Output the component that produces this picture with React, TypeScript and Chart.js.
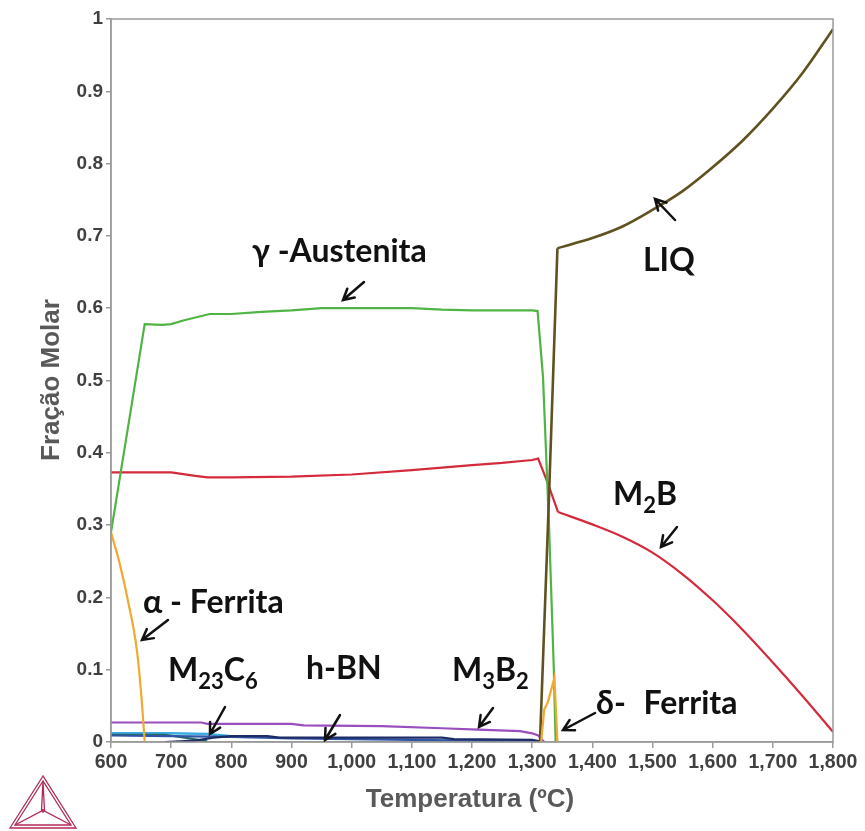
import React, { useEffect, useRef } from "react";
import { Chart, registerables } from "chart.js";

Chart.register(...registerables);

// Temperature (ºC) and molar fraction for every phase
const gammaT = [600, 656, 685, 700, 720, 764, 800, 850, 900, 950, 1000, 1100, 1150, 1200, 1250, 1300, 1309, 1318, 1328, 1336, 1339];
const gammaY = [0.29, 0.578, 0.577, 0.578, 0.583, 0.592, 0.592, 0.595, 0.597, 0.6, 0.6, 0.6, 0.598, 0.597, 0.597, 0.597, 0.596, 0.505, 0.3, 0.1, 0];

const m2bSolidT = [600, 700, 740, 760, 800, 900, 1000, 1100, 1200, 1250, 1300, 1310, 1325, 1343];
const m2bSolidY = [0.373, 0.373, 0.368, 0.366, 0.366, 0.367, 0.37, 0.376, 0.383, 0.386, 0.39, 0.392, 0.36, 0.318];

const m2bMeltT = [1343, 1400, 1450, 1500, 1550, 1600, 1650, 1700, 1750, 1800];
const m2bMeltY = [0.318, 0.301, 0.284, 0.262, 0.232, 0.196, 0.155, 0.11, 0.063, 0.014];

const liqRiseT = [1313, 1328, 1342];
const liqRiseY = [0, 0.34, 0.683];

const liqT = [1342, 1400, 1450, 1500, 1550, 1600, 1650, 1700, 1750, 1800];
const liqY = [0.683, 0.697, 0.713, 0.736, 0.762, 0.795, 0.832, 0.876, 0.926, 0.986];

const alphaT = [600, 615, 628, 643, 651, 656];
const alphaY = [0.29, 0.245, 0.196, 0.127, 0.058, 0];

const deltaT = [1315, 1320, 1326, 1337, 1342];
const deltaY = [0, 0.045, 0.055, 0.089, 0];

const m3b2T = [600, 750, 760, 900, 920, 1050, 1150, 1210, 1280, 1300, 1310, 1320];
const m3b2Y = [0.027, 0.027, 0.025, 0.025, 0.023, 0.022, 0.019, 0.017, 0.015, 0.012, 0.009, 0];

const m23c6T = [690, 740, 770, 800, 860, 880, 1000, 1150, 1170, 1300, 1320];
const m23c6Y = [0, 0.002, 0.006, 0.008, 0.008, 0.006, 0.006, 0.006, 0.004, 0.003, 0];

const hbnT = [600, 700, 800, 900, 1000, 1100, 1200, 1300, 1315];
const hbnY = [0.009, 0.008, 0.007, 0.005, 0.004, 0.003, 0.002, 0.002, 0];

const cyanT = [600, 700, 760, 800, 830];
const cyanY = [0.012, 0.012, 0.011, 0.008, 0.007];

const tealT = [600, 690, 730, 760];
const tealY = [0.01, 0.01, 0.005, 0.001];

const xTicks = [600, 700, 800, 900, 1000, 1100, 1200, 1300, 1400, 1500, 1600, 1700, 1800];
const yTicks = [0, 0.1, 0.2, 0.3, 0.4, 0.5, 0.6, 0.7, 0.8, 0.9, 1];

const pts = (t: number[], y: number[]) => t.map((x, i) => ({ x, y: y[i] }));

const LABEL_FONT = "bold 32px Lato, 'Open Sans', sans-serif";
const SUB_FONT = "bold 22px Lato, 'Open Sans', sans-serif";
const AXIS_FONT = "'Liberation Sans', Arial, sans-serif";

type Part = { t: string; sub?: boolean; gap?: number };

function drawRich(ctx: CanvasRenderingContext2D, parts: Part[], x: number, y: number) {
  let cx = x;
  for (const p of parts) {
    cx += p.gap ?? 0;
    ctx.font = p.sub ? SUB_FONT : LABEL_FONT;
    ctx.fillText(p.t, cx, p.sub ? y + 8 : y);
    cx += ctx.measureText(p.t).width;
  }
}

function arrow(ctx: CanvasRenderingContext2D, x1: number, y1: number, x2: number, y2: number) {
  const a = Math.atan2(y2 - y1, x2 - x1);
  const h = 12;
  ctx.beginPath();
  ctx.moveTo(x1, y1);
  ctx.lineTo(x2, y2);
  ctx.moveTo(x2 - h * Math.cos(a - 0.5), y2 - h * Math.sin(a - 0.5));
  ctx.lineTo(x2, y2);
  ctx.lineTo(x2 - h * Math.cos(a + 0.5), y2 - h * Math.sin(a + 0.5));
  ctx.stroke();
}

const decorations = {
  id: "decorations",
  afterDatasetsDraw(chart: Chart) {
    const { ctx, chartArea } = chart;
    ctx.save();
    // Frame around the plot
    ctx.strokeStyle = "#9a9a9a";
    ctx.lineWidth = 1.5;
    ctx.strokeRect(chartArea.left, chartArea.top, chartArea.right - chartArea.left, chartArea.bottom - chartArea.top);

    // Phase labels
    ctx.fillStyle = "#111";
    ctx.textBaseline = "alphabetic";
    ctx.textAlign = "left";
    drawRich(ctx, [{ t: "γ -Austenita" }], 252, 262);
    drawRich(ctx, [{ t: "LIQ" }], 643, 271);
    drawRich(ctx, [{ t: "M" }, { t: "2", sub: true }, { t: "B" }], 613, 505);
    drawRich(ctx, [{ t: "α - Ferrita" }], 143, 613);
    drawRich(ctx, [{ t: "M" }, { t: "23", sub: true }, { t: "C" }, { t: "6", sub: true }], 168, 681);
    drawRich(ctx, [{ t: "h-BN" }], 306, 679);
    drawRich(ctx, [{ t: "M" }, { t: "3", sub: true }, { t: "B" }, { t: "2", sub: true }], 452, 681);
    drawRich(ctx, [{ t: "δ- " }, { t: "Ferrita", gap: 10 }], 596, 714);

    ctx.strokeStyle = "#111";
    ctx.lineWidth = 2.5;
    ctx.lineCap = "round";
    arrow(ctx, 364, 282, 343, 300);
    arrow(ctx, 675, 220, 655, 199);
    arrow(ctx, 677, 527, 661, 547);
    arrow(ctx, 168, 620, 142, 640);
    arrow(ctx, 225, 707, 210, 734);
    arrow(ctx, 340, 715, 325, 740);
    arrow(ctx, 493, 708, 479, 727);
    arrow(ctx, 595, 713, 563, 730);

    // Axis titles
    ctx.fillStyle = "#595959";
    ctx.font = `bold 26px ${AXIS_FONT}`;
    ctx.textAlign = "center";
    ctx.textBaseline = "middle";
    ctx.fillText("Temperatura (ºC)", 470, 800);
    ctx.save();
    ctx.translate(52, 380);
    ctx.rotate(-Math.PI / 2);
    ctx.fillText("Fração Molar", 0, 0);
    ctx.restore();

    // Triangle emblem
    ctx.strokeStyle = "#b02a55";
    ctx.lineWidth = 1.3;
    ctx.lineCap = "butt";
    const A = [43, 776], B = [10, 828], C = [76, 828], O = [43, 811];
    const tri = (p: number[][]) => {
      ctx.beginPath();
      ctx.moveTo(p[0][0], p[0][1]);
      ctx.lineTo(p[1][0], p[1][1]);
      ctx.lineTo(p[2][0], p[2][1]);
      ctx.closePath();
      ctx.stroke();
    };
    tri([A, B, C]);
    tri([[43, 781], [15, 825], [71, 825]]);
    ctx.beginPath();
    ctx.moveTo(43, 781); ctx.lineTo(O[0] - 1.5, O[1]); ctx.lineTo(15, 825);
    ctx.moveTo(43, 781); ctx.lineTo(O[0] + 1.5, O[1]); ctx.lineTo(71, 825);
    ctx.moveTo(O[0], O[1] - 2); ctx.lineTo(O[0], O[1] + 2);
    ctx.moveTo(O[0] - 1.5, O[1]); ctx.lineTo(O[0] + 1.5, O[1]);
    ctx.stroke();
    ctx.restore();
  },
};

export default function App() {
  const ref = useRef<HTMLCanvasElement>(null);

  useEffect(() => {
    if (!ref.current) return;
    const line = (data: { x: number; y: number }[], color: string, width = 2.2, smooth = false) => ({
      data,
      borderColor: color,
      backgroundColor: color,
      borderWidth: width,
      pointRadius: 0,
      tension: 0,
      cubicInterpolationMode: smooth ? ("monotone" as const) : ("default" as const),
      fill: false,
    });
    const chart = new Chart(ref.current, {
      type: "line",
      data: {
        datasets: [
          line(pts(deltaT, deltaY), "#f2a931"),
          line(pts(liqRiseT, liqRiseY), "#5f5220", 2.6),
          line(pts(liqT, liqY), "#5f5220", 2.6, true),
          line(pts(gammaT, gammaY), "#4fb444"),
          line(pts(m2bSolidT, m2bSolidY), "#d42a3c"),
          line(pts(m2bMeltT, m2bMeltY), "#d42a3c", 2.2, true),
          line(pts(alphaT, alphaY), "#f2a931", 2.2, true),
          line(pts(m3b2T, m3b2Y), "#9a4dbf"),
          line(pts(m23c6T, m23c6Y), "#1e2c66"),
          line(pts(hbnT, hbnY), "#2f56a6"),
          line(pts(tealT, tealY), "#2d6a60"),
          line(pts(cyanT, cyanY), "#3aaee3", 2.6),
        ],
      },
      options: {
        animation: false,
        responsive: false,
        events: [],
        layout: { padding: { top: 19, right: 32, left: 0, bottom: 0 } },
        plugins: { legend: { display: false }, tooltip: { enabled: false } },
        scales: {
          x: {
            type: "linear",
            min: 600,
            max: 1800,
            afterFit: (s: any) => { s.height = 89; },
            afterBuildTicks: (s: any) => { s.ticks = xTicks.map((v) => ({ value: v })); },
            grid: { display: true, drawOnChartArea: false, drawTicks: true, tickLength: 6, color: "#9a9a9a", lineWidth: 1.5 },
            border: { display: true, color: "#9a9a9a", width: 1.5 },
            ticks: {
              color: "#404040",
              padding: 3,
              maxRotation: 0,
              font: { family: AXIS_FONT, size: 19.5, weight: "bold" },
              callback: (v: any) => Number(v).toLocaleString("en-US"),
            },
          },
          y: {
            min: 0,
            max: 1,
            afterFit: (s: any) => { s.width = 111; },
            afterBuildTicks: (s: any) => { s.ticks = yTicks.map((v) => ({ value: v })); },
            grid: { display: true, drawOnChartArea: false, drawTicks: true, tickLength: 5, color: "#9a9a9a", lineWidth: 1.5 },
            border: { display: true, color: "#9a9a9a", width: 1.5 },
            ticks: {
              color: "#404040",
              padding: 3,
              font: { family: AXIS_FONT, size: 19, weight: "bold" },
              callback: (v: any) => String(Math.round(Number(v) * 10) / 10),
            },
          },
        },
      },
      plugins: [decorations],
    });
    return () => chart.destroy();
  }, []);

  return (
    <div style={{ position: "fixed", left: 0, top: 0, width: 865, height: 831, background: "#fff" }}>
      <canvas ref={ref} width={865} height={831} style={{ width: 865, height: 831 }} />
    </div>
  );
}
